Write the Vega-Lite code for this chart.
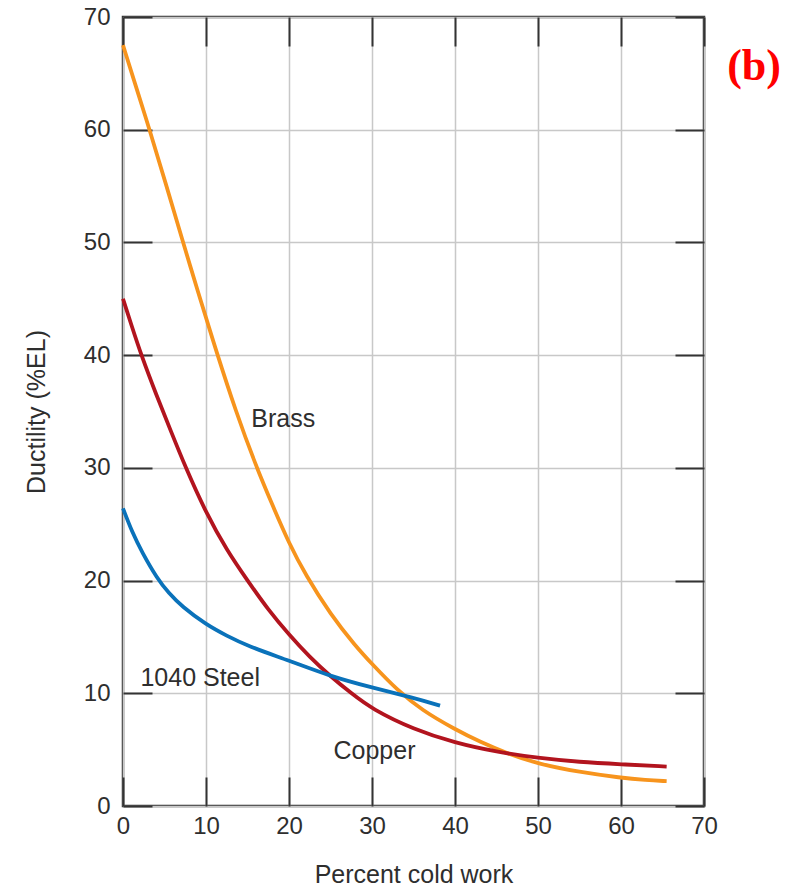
{
  "$schema": "https://vega.github.io/schema/vega-lite/v6.json",
  "width": 581,
  "height": 789,
  "autosize": "none",
  "padding": {"left": 123, "top": 17, "right": 94, "bottom": 81},
  "background": "white",
  "config": {
    "view": {"stroke": "#333333", "strokeWidth": 2.5},
    "font": "Liberation Sans",
    "axis": {
      "labelFont": "Liberation Sans",
      "titleFont": "Liberation Sans",
      "labelColor": "#2e2e2e",
      "titleColor": "#2e2e2e",
      "labelFontSize": 24,
      "titleFontSize": 25,
      "titleFontWeight": "normal",
      "labelFlush": false,
      "gridColor": "#c8c8c8",
      "gridWidth": 1.5,
      "tickColor": "#333333",
      "tickWidth": 2,
      "tickSize": -29,
      "domain": false
    }
  },
  "title": {
    "text": "(b)",
    "orient": "top",
    "anchor": "end",
    "frame": "group",
    "font": "Liberation Serif",
    "fontSize": 44,
    "fontWeight": "bold",
    "color": "#ff0000",
    "baseline": "middle",
    "dx": 77,
    "dy": 110
  },
  "datasets": {
    "curves": [
      {"material": "Brass", "x": 0, "y": 67.5},
      {"material": "Brass", "x": 2, "y": 62.8},
      {"material": "Brass", "x": 3.2, "y": 60},
      {"material": "Brass", "x": 5, "y": 55.6},
      {"material": "Brass", "x": 7.2, "y": 50.1},
      {"material": "Brass", "x": 9, "y": 45.7},
      {"material": "Brass", "x": 11.3, "y": 40.2},
      {"material": "Brass", "x": 13.6, "y": 35},
      {"material": "Brass", "x": 16, "y": 30.2},
      {"material": "Brass", "x": 18, "y": 26.7},
      {"material": "Brass", "x": 20, "y": 23.3},
      {"material": "Brass", "x": 22, "y": 20.5},
      {"material": "Brass", "x": 25, "y": 17},
      {"material": "Brass", "x": 28, "y": 14.2},
      {"material": "Brass", "x": 30, "y": 12.6},
      {"material": "Brass", "x": 33, "y": 10.3},
      {"material": "Brass", "x": 36, "y": 8.5},
      {"material": "Brass", "x": 40, "y": 6.8},
      {"material": "Brass", "x": 43, "y": 5.7},
      {"material": "Brass", "x": 46.5, "y": 4.6},
      {"material": "Brass", "x": 50, "y": 3.75},
      {"material": "Brass", "x": 55, "y": 3},
      {"material": "Brass", "x": 60, "y": 2.5},
      {"material": "Brass", "x": 63, "y": 2.3},
      {"material": "Brass", "x": 65.5, "y": 2.2},
      {"material": "Copper", "x": 0, "y": 45},
      {"material": "Copper", "x": 1, "y": 42.7},
      {"material": "Copper", "x": 2.2, "y": 40},
      {"material": "Copper", "x": 4, "y": 36.5},
      {"material": "Copper", "x": 5.8, "y": 33.2},
      {"material": "Copper", "x": 7.5, "y": 30.1},
      {"material": "Copper", "x": 10, "y": 26},
      {"material": "Copper", "x": 12.5, "y": 22.7},
      {"material": "Copper", "x": 15, "y": 20},
      {"material": "Copper", "x": 17.5, "y": 17.4},
      {"material": "Copper", "x": 20, "y": 15.2},
      {"material": "Copper", "x": 22.5, "y": 13.2},
      {"material": "Copper", "x": 25, "y": 11.5},
      {"material": "Copper", "x": 27.5, "y": 10},
      {"material": "Copper", "x": 30, "y": 8.6},
      {"material": "Copper", "x": 35, "y": 6.8},
      {"material": "Copper", "x": 40, "y": 5.6},
      {"material": "Copper", "x": 45, "y": 4.8},
      {"material": "Copper", "x": 50, "y": 4.25},
      {"material": "Copper", "x": 55, "y": 3.9},
      {"material": "Copper", "x": 60, "y": 3.7},
      {"material": "Copper", "x": 65.5, "y": 3.5},
      {"material": "1040 Steel", "x": 0, "y": 26.4},
      {"material": "1040 Steel", "x": 1.1, "y": 24.3},
      {"material": "1040 Steel", "x": 2.3, "y": 22.5},
      {"material": "1040 Steel", "x": 4.1, "y": 20.2},
      {"material": "1040 Steel", "x": 5.5, "y": 18.9},
      {"material": "1040 Steel", "x": 7.1, "y": 17.7},
      {"material": "1040 Steel", "x": 10, "y": 16.1},
      {"material": "1040 Steel", "x": 12.5, "y": 15.1},
      {"material": "1040 Steel", "x": 15, "y": 14.2},
      {"material": "1040 Steel", "x": 20, "y": 12.9},
      {"material": "1040 Steel", "x": 25, "y": 11.5},
      {"material": "1040 Steel", "x": 30, "y": 10.5},
      {"material": "1040 Steel", "x": 35, "y": 9.6},
      {"material": "1040 Steel", "x": 38.2, "y": 8.9}
    ],
    "labels": [
      {"label": "Brass", "x": 19.3, "y": 34.3},
      {"label": "1040 Steel", "x": 9.3, "y": 11.4},
      {"label": "Copper", "x": 30.3, "y": 4.9}
    ]
  },
  "layer": [
    {
      "data": {"name": "curves"},
      "mark": {"type": "line", "strokeWidth": 3.8, "interpolate": "basis"},
      "encoding": {
        "x": {
          "field": "x", "type": "quantitative",
          "scale": {"domain": [0, 70], "nice": false},
          "axis": {
            "orient": "bottom",
            "values": [0, 10, 20, 30, 40, 50, 60, 70],
            "title": "Percent cold work",
            "labelPadding": 37,
            "titlePadding": 24,
            "grid": true
          }
        },
        "y": {
          "field": "y", "type": "quantitative",
          "scale": {"domain": [0, 70], "nice": false},
          "axis": {
            "orient": "left",
            "values": [0, 10, 20, 30, 40, 50, 60, 70],
            "title": "Ductility (%EL)",
            "labelPadding": 42,
            "titlePadding": 34,
            "grid": true
          }
        },
        "color": {
          "field": "material", "type": "nominal",
          "scale": {"domain": ["Brass", "Copper", "1040 Steel"], "range": ["#F7941D", "#B2141E", "#0A72BA"]},
          "legend": null
        }
      }
    },
    {
      "data": {"name": "labels"},
      "mark": {"type": "text", "fontSize": 25, "color": "#2e2e2e", "align": "center", "baseline": "middle", "font": "Liberation Sans"},
      "encoding": {
        "x": {
          "field": "x", "type": "quantitative",
          "axis": {"orient": "top", "values": [0, 10, 20, 30, 40, 50, 60, 70], "labels": false, "grid": false, "title": null}
        },
        "y": {
          "field": "y", "type": "quantitative",
          "axis": {"orient": "right", "values": [0, 10, 20, 30, 40, 50, 60, 70], "labels": false, "grid": false, "title": null}
        },
        "text": {"field": "label", "type": "nominal"}
      }
    }
  ],
  "resolve": {"axis": {"x": "independent", "y": "independent"}}
}
